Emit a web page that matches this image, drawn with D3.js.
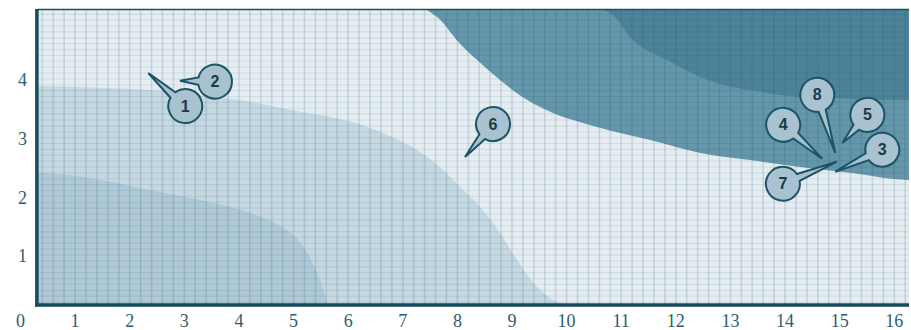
<!DOCTYPE html>
<html><head><meta charset="utf-8">
<script src="https://cdn.jsdelivr.net/npm/d3@7"></script>
<style>body{margin:0;background:#fff}</style>
</head><body><svg id="c" width="911" height="330"></svg>
<script>
// ---- data ----
const xTicks = d3.range(0, 17);
const yTicks = [1, 2, 3, 4];
const plotExtentX = [0.30, 16.27];
const plotExtentY = [0.17, 5.21];

// upper boundary of light-medium region (lower left, large)
const boundaryA = [[0.30,3.90],[1.46,3.87],[2.37,3.83],[3.29,3.75],[4.20,3.63],[5.12,3.46],[6.03,3.30],[6.64,3.10],[7.26,2.81],[7.68,2.52],[8.05,2.18],[8.42,1.84],[8.78,1.40],[9.09,0.94],[9.39,0.55],[9.75,0.26],[10.01,0.17]];
// upper boundary of medium region (lower left, small)
const boundaryB = [[0.30,2.42],[1.46,2.30],[2.37,2.13],[3.29,1.96],[4.20,1.74],[4.81,1.48],[5.12,1.24],[5.34,0.90],[5.52,0.51],[5.63,0.17]];
// lower boundary of dark region (upper right)
const boundaryC = [[7.41,5.21],[7.68,5.03],[7.99,4.68],[8.36,4.34],[8.78,4.00],[9.28,3.66],[9.75,3.44],[10.30,3.27],[10.98,3.10],[11.53,2.98],[12.45,2.76],[13.36,2.64],[14.28,2.52],[15.19,2.42],[16.27,2.30]];
// lower boundary of darkest region (upper right corner)
const boundaryD = [[10.61,5.21],[10.80,5.14],[11.22,4.68],[11.84,4.34],[12.45,4.05],[13.05,3.88],[13.67,3.78],[14.28,3.71],[14.89,3.70],[15.50,3.66],[16.27,3.66]];

const calloutLabels = ["1","2","3","4","5","6","7","8"];
const calloutX = [2.34, 2.92, 14.92, 14.68, 15.05, 8.14, 14.95, 14.92];
const calloutY = [4.12, 3.99, 2.44, 2.66, 2.93, 2.69, 2.61, 2.76];
// balloon offsets (px) relative to pointed location — layout only
const calloutDX = [37, 35, 47, -39, 25, 28, -54, -18];
const calloutDY = [33, 1, -22, -34, -28, -33, 22, -58];

// ---- layout ----
const svg = d3.select("#c");
const x = d3.scaleLinear().domain([0, 16.27]).range([20.5, 909]);
const y = d3.scaleLinear().domain([0, 5.21]).range([315, 9]);
const X0 = x(plotExtentX[0]), X1 = x(plotExtentX[1]);
const Y0 = y(plotExtentY[0]), Y1 = y(plotExtentY[1]);

svg.append("clipPath").attr("id","clip").append("rect")
  .attr("x", X0).attr("y", Y1).attr("width", X1 - X0).attr("height", Y0 - Y1);
const g = svg.append("g").attr("clip-path","url(#clip)");

g.append("rect").attr("x", X0).attr("y", Y1).attr("width", X1 - X0).attr("height", Y0 - Y1)
  .attr("fill", "#e5edf1");

const curve = d3.curveMonotoneX;
const areaBelow = d3.area().x(d => x(d[0])).y0(y(plotExtentY[0]) + 5).y1(d => y(d[1])).curve(curve);
const areaAbove = d3.area().x(d => x(d[0])).y0(y(plotExtentY[1]) - 5).y1(d => y(d[1])).curve(curve);

g.append("path").datum([[plotExtentX[0]-0.2, boundaryA[0][1]], ...boundaryA]).attr("d", areaBelow).attr("fill", "#c6d8e1");
g.append("path").datum([[plotExtentX[0]-0.2, boundaryB[0][1]], ...boundaryB]).attr("d", areaBelow).attr("fill", "#b0c9d6");
g.append("path").datum([...boundaryC, [plotExtentX[1]+0.2, boundaryC[boundaryC.length-1][1]]]).attr("d", areaAbove).attr("fill", "#6596aa");
g.append("path").datum([...boundaryD, [plotExtentX[1]+0.2, boundaryD[boundaryD.length-1][1]]]).attr("d", areaAbove).attr("fill", "#4d8399");

// grid overlay
const vLines = d3.range(plotExtentX[0] + 0.1, plotExtentX[1], 0.2);
const hLines = d3.range(plotExtentY[0] + 0.05, plotExtentY[1], 0.1);
g.selectAll(".v").data(vLines).join("line")
  .attr("x1", d => x(d)).attr("x2", d => x(d)).attr("y1", Y1).attr("y2", Y0)
  .attr("stroke", "#1f5a72").attr("stroke-opacity", 0.16).attr("stroke-width", 1.6);
g.selectAll(".h").data(hLines).join("line")
  .attr("y1", d => y(d)).attr("y2", d => y(d)).attr("x1", X0).attr("x2", X1)
  .attr("stroke", "#1f5a72").attr("stroke-opacity", 0.10).attr("stroke-width", 1.2);

// frame
svg.append("line").attr("x1", X0).attr("x2", X1).attr("y1", Y1 + 0.5).attr("y2", Y1 + 0.5)
  .attr("stroke", "#1d4f63").attr("stroke-width", 1.5);
svg.append("line").attr("x1", X0).attr("x2", X0).attr("y1", Y1).attr("y2", Y0 + 1.5)
  .attr("stroke", "#164a5e").attr("stroke-width", 3.5);
svg.append("line").attr("x1", X0 - 1.7).attr("x2", X1).attr("y1", Y0).attr("y2", Y0)
  .attr("stroke", "#164a5e").attr("stroke-width", 3.5);

// tick labels
svg.selectAll(".xt").data(xTicks).join("text")
  .attr("x", d => x(d)).attr("y", 327).attr("text-anchor", "middle")
  .attr("font-family", "Liberation Serif, serif").attr("font-size", 18).attr("fill", "#2e5d72")
  .text(d => d);
svg.selectAll(".yt").data(yTicks).join("text")
  .attr("x", 27).attr("y", d => y(d) + 6).attr("text-anchor", "end")
  .attr("font-family", "Liberation Serif, serif").attr("font-size", 18).attr("fill", "#2e5d72")
  .text(d => d);

// callouts
const R = 17, delta = 0.22;
const callouts = calloutLabels.map((t, i) => ({
  t, tx: x(calloutX[i]), ty: y(calloutY[i]),
  cx: x(calloutX[i]) + calloutDX[i], cy: y(calloutY[i]) + calloutDY[i]
}));
const cg = svg.selectAll(".co").data(callouts).join("g");
cg.append("path").attr("d", d => {
  const th = Math.atan2(d.ty - d.cy, d.tx - d.cx);
  const p1 = [d.cx + R * Math.cos(th + delta), d.cy + R * Math.sin(th + delta)];
  const p2 = [d.cx + R * Math.cos(th - delta), d.cy + R * Math.sin(th - delta)];
  return `M${d.tx},${d.ty}L${p1[0]},${p1[1]}A${R},${R} 0 1 1 ${p2[0]},${p2[1]}Z`;
}).attr("fill", "#a8c3cf").attr("stroke", "#1c5367").attr("stroke-width", 2).attr("stroke-linejoin", "miter");
cg.append("text").attr("x", d => d.cx).attr("y", d => d.cy + 5.5).attr("text-anchor", "middle")
  .attr("font-family", "Liberation Sans, Arial, sans-serif").attr("font-weight", "bold")
  .attr("font-size", 16).attr("fill", "#1b3a48").text(d => d.t);
</script></body></html>
